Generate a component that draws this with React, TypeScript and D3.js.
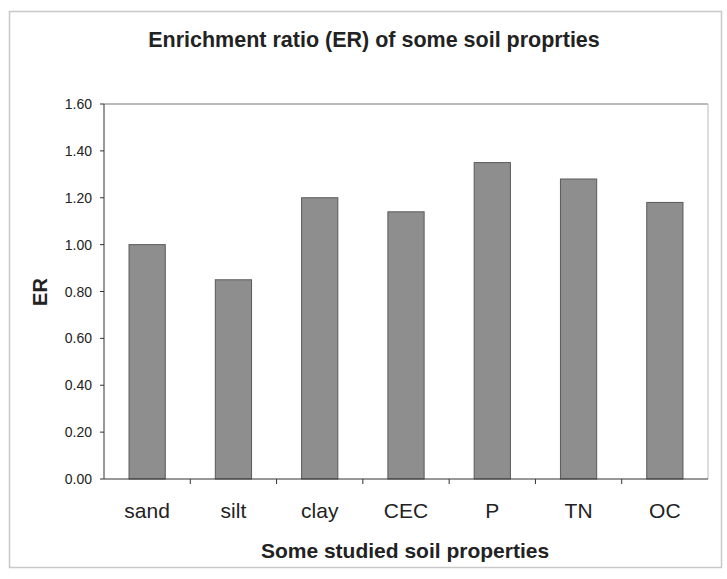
import React from "react";
import * as d3 from "d3";

const categories = ["sand", "silt", "clay", "CEC", "P", "TN", "OC"];
const values = [1.0, 0.85, 1.2, 1.14, 1.35, 1.28, 1.18];
const yTicks = [0, 0.2, 0.4, 0.6, 0.8, 1.0, 1.2, 1.4, 1.6];
const title = "Enrichment ratio (ER) of some soil proprties";
const xTitle = "Some studied soil properties";
const yTitle = "ER";

export default function App() {
  const W = 727, H = 579;
  const left = 104, right = 708, top = 104, bottom = 479;
  const x = d3.scaleBand<string>().domain(categories).range([left, right]).paddingInner(0.58).paddingOuter(0.29);
  const y = d3.scaleLinear().domain([0, 1.6]).range([bottom, top]);
  const font = "Arial, 'Liberation Sans', sans-serif";
  const step = x.step();
  return (
    <svg width={W} height={H} style={{ position: "absolute", left: 0, top: 0, background: "#fff" }}>
      <rect x={0} y={0} width={W} height={H} fill="#fff" />
      <rect x={9.5} y={11.5} width={712} height={556} fill="none" stroke="#c8c8c8" strokeWidth={1.5} />
      <text x={374} y={47} textAnchor="middle" fontFamily={font} fontWeight="bold" fontSize={21.5} fill="#222">{title}</text>
      {/* plot frame */}
      <line x1={left} x2={right} y1={top} y2={top} stroke="#777" strokeWidth={1} />
      <line x1={right} x2={right} y1={top} y2={bottom} stroke="#bbb" strokeWidth={1} />
      {/* bars */}
      {categories.map((c, i) => (
        <rect key={c} x={x(c)} y={y(values[i])} width={x.bandwidth()} height={bottom - y(values[i])}
          fill="#8e8e8e" stroke="#5a5a5a" strokeWidth={1} />
      ))}
      {/* y axis */}
      <line x1={left} x2={left} y1={top} y2={bottom} stroke="#333" strokeWidth={1} />
      {yTicks.map((t) => (
        <g key={t}>
          <line x1={left - 4} x2={left} y1={y(t)} y2={y(t)} stroke="#333" />
          <text x={92} y={y(t) + 5} textAnchor="end" fontFamily={font} fontSize={14} fill="#222">{t.toFixed(2)}</text>
        </g>
      ))}
      {/* x axis */}
      <line x1={left} x2={right} y1={bottom} y2={bottom} stroke="#333" strokeWidth={1} />
      {categories.map((c, i) => (
        <g key={c}>
          {i > 0 && <line x1={x(c)! - (step - x.bandwidth()) / 2} x2={x(c)! - (step - x.bandwidth()) / 2} y1={bottom} y2={bottom + 5} stroke="#333" />}
          <text x={x(c)! + x.bandwidth() / 2} y={518} textAnchor="middle" fontFamily={font} fontSize={21} fill="#222">{c}</text>
        </g>
      ))}
      <text x={405} y={558} textAnchor="middle" fontFamily={font} fontWeight="bold" fontSize={21} fill="#222">{xTitle}</text>
      <text transform={`translate(47,292) rotate(-90)`} textAnchor="middle" fontFamily={font} fontWeight="bold" fontSize={20} fill="#222">{yTitle}</text>
    </svg>
  );
}
